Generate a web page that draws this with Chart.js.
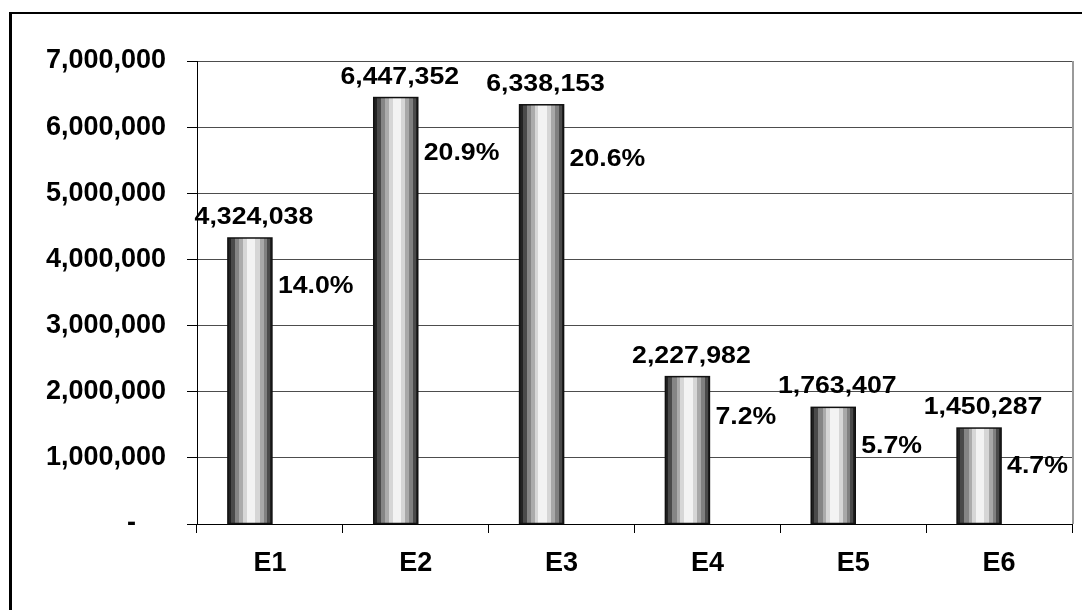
<!DOCTYPE html>
<html>
<head>
<meta charset="utf-8">
<script src="https://cdn.jsdelivr.net/npm/chart.js@4.4.0/dist/chart.umd.min.js"></script>
<style>
  html, body { margin: 0; padding: 0; background: #fff; }
  body { width: 1082px; height: 610px; overflow: hidden; position: relative; }
  #frame { position: absolute; left: 9px; top: 12px; width: 1200px; height: 700px;
           border-left: 3px solid #000; border-top: 2px solid #000; }
  #chart { position: absolute; left: 0; top: 0; }
</style>
</head>
<body>
<div id="frame"></div>
<canvas id="chart" width="1082" height="610"></canvas>
<script>
const categories = ['E1', 'E2', 'E3', 'E4', 'E5', 'E6'];
const values = [4324038, 6447352, 6338153, 2227982, 1763407, 1450287];
const shares = [14.0, 20.9, 20.6, 7.2, 5.7, 4.7];
const yMax = 7000000;
const yStep = 1000000;

// grey bands across each bar, left to right, like the old excel cylinder fill
const bands = [
    [0.00, '#222222'], [0.07, '#4a4a4a'], [0.16, '#858585'], [0.26, '#ababab'],
    [0.34, '#d6d6d6'], [0.43, '#f3f3f3'], [0.62, '#d6d6d6'], [0.72, '#a8a8a8'],
    [0.81, '#808080'], [0.89, '#4a4a4a'], [0.96, '#222222']
];

function fmt(n) {
    return n.toLocaleString('en-US');
}

function drawStretched(ctx, text, x, y, align, baseline) {
    ctx.save();
    ctx.translate(x, y);
    ctx.scale(1.16, 1);
    ctx.textAlign = align;
    ctx.textBaseline = baseline;
    ctx.fillText(text, 0, 0);
    ctx.restore();
}

const cylinderBars = {
    id: 'cylinderBars',
    beforeDatasetsDraw(chart) {
        const ctx = chart.ctx;
        const area = chart.chartArea;
        // grey right edge of the plot area
        ctx.save();
        ctx.strokeStyle = '#9a9a9a';
        ctx.lineWidth = 2;
        ctx.beginPath();
        ctx.moveTo(area.right + 1, area.top);
        ctx.lineTo(area.right + 1, area.bottom);
        ctx.stroke();
        ctx.restore();
    },
    afterDatasetsDraw(chart) {
        const ctx = chart.ctx;
        const meta = chart.getDatasetMeta(0);
        const y2 = chart.scales.y2;

        meta.data.forEach(function (bar, i) {
            const p = bar.getProps(['x', 'y', 'base', 'width'], true);
            const left = p.x - p.width / 2;
            const h = p.base - p.y;

            const grad = ctx.createLinearGradient(left, 0, left + p.width, 0);
            bands.forEach(function (b, j) {
                const end = j < bands.length - 1 ? bands[j + 1][0] : 1;
                grad.addColorStop(b[0], b[1]);
                grad.addColorStop(Math.max(b[0], end - 0.0001), b[1]);
            });

            ctx.save();
            ctx.fillStyle = grad;
            ctx.fillRect(left, p.y, p.width, h);
            ctx.strokeStyle = '#111';
            ctx.lineWidth = 1.5;
            ctx.strokeRect(left, p.y, p.width, h);
            ctx.restore();

            ctx.save();
            ctx.fillStyle = '#000';
            ctx.font = 'bold 23px "Liberation Sans", Arial, sans-serif';
            drawStretched(ctx, fmt(values[i]), p.x + 4, p.y - 14, 'center', 'alphabetic');
            drawStretched(ctx, shares[i].toFixed(1) + '%', left + p.width + 6,
                y2.getPixelForValue(shares[i]) + 33, 'left', 'middle');
            ctx.restore();
        });
    }
};

const tickFont = { family: '"Liberation Sans", Arial, sans-serif', size: 27, weight: 'bold' };

new Chart(document.getElementById('chart'), {
    type: 'bar',
    data: {
        labels: categories,
        datasets: [{
            label: 'Value',
            data: values,
            backgroundColor: 'transparent',
            borderWidth: 0,
            categoryPercentage: 0.5487,
            barPercentage: 1.1
        }, {
            label: 'Share',
            data: shares,
            yAxisID: 'y2',
            backgroundColor: 'transparent',
            borderWidth: 0,
            categoryPercentage: 0.5487,
            barPercentage: 1.1
        }]
    },
    options: {
        responsive: false,
        animation: false,
        layout: { padding: { top: 61, right: 10, left: 0, bottom: 0 } },
        plugins: {
            legend: { display: false },
            tooltip: { enabled: false }
        },
        scales: {
            x: {
                afterFit(scale) { scale.height = 86; },
                grid: {
                    offset: true,
                    drawOnChartArea: false,
                    tickLength: 9,
                    color: '#000'
                },
                border: { color: '#000', width: 1 },
                ticks: { color: '#000', font: tickFont, padding: 14 }
            },
            y: {
                min: 0,
                max: yMax,
                afterFit(scale) { scale.width = 197; },
                grid: { color: '#4d4d4d', tickColor: '#000', tickLength: 10 },
                border: { color: '#000', width: 1 },
                ticks: {
                    stepSize: yStep,
                    color: '#000',
                    font: tickFont,
                    padding: 21,
                    callback: function (v) { return v === 0 ? '-    ' : fmt(v); }
                }
            },
            y2: {
                display: false,
                min: 0,
                max: 24
            }
        }
    },
    plugins: [cylinderBars]
});
</script>
</body>
</html>
